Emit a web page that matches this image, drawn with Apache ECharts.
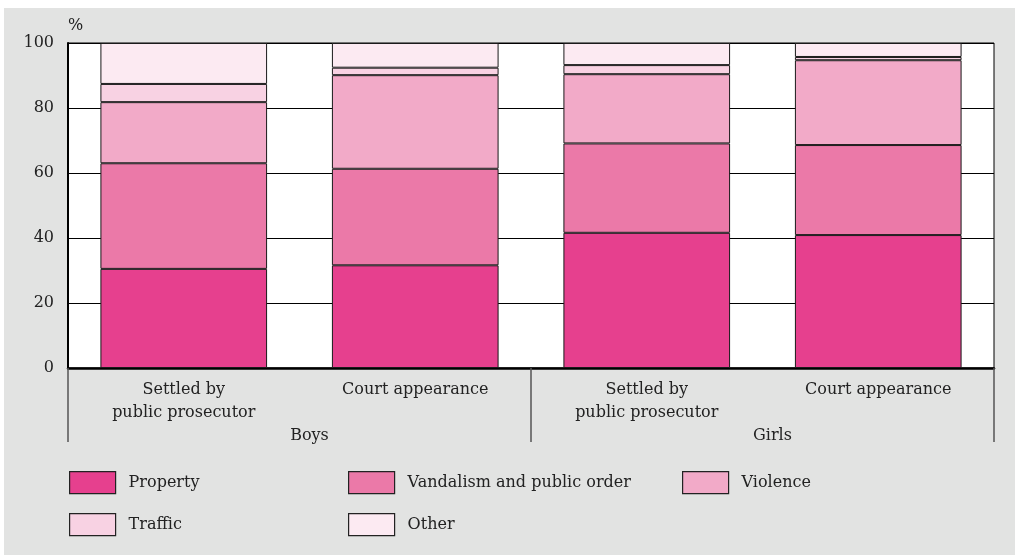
<!DOCTYPE html>
<html>
<head>
<meta charset="utf-8">
<script src="https://cdn.jsdelivr.net/npm/echarts@6/dist/echarts.min.js"></script>
<style>
  html, body { margin: 0; padding: 0; background: #ffffff; }
  #chart { position: absolute; left: 4px; top: 8px; width: 1011px; height: 547px; background: #e2e3e2; }
</style>
</head>
<body>
<div id="chart"></div>
<script>
const categories = ['Settled by\npublic prosecutor', 'Court appearance', 'Settled by\npublic prosecutor', 'Court appearance'];
const groups = ['Boys', 'Girls'];
const yTicks = [0, 20, 40, 60, 80, 100];

const seriesNames = ['Property', 'Vandalism and public order', 'Violence', 'Traffic', 'Other'];
const property  = [30.5, 31.6, 41.6, 40.9];
const vandalism = [32.5, 29.7, 27.5, 27.7];
const violence  = [18.8, 28.8, 21.3, 26.1];
const traffic   = [5.6, 2.3, 2.8, 1.0];
const other     = [12.6, 7.6, 6.8, 4.3];

const colors = ['#e6408e', '#eb79a8', '#f2aac8', '#f8d2e3', '#fceaf2'];
const FONT = 'DejaVu Serif';
const TXT = '#222222';

const values = [property, vandalism, violence, traffic, other];

const chart = echarts.init(document.getElementById('chart'), null, { renderer: 'canvas' });

const legendPos = [
  { left: 65, top: 463 },
  { left: 344, top: 463 },
  { left: 678, top: 463 },
  { left: 65, top: 505 },
  { left: 344, top: 505 }
];

chart.setOption({
  backgroundColor: 'transparent',
  animation: false,
  textStyle: { fontFamily: FONT },
  grid: {
    left: 64, top: 35, width: 926, height: 325,
    show: true, backgroundColor: '#ffffff', borderColor: '#000000', borderWidth: 1
  },
  legend: seriesNames.map((n, i) => ({
    data: [n],
    left: legendPos[i].left,
    top: legendPos[i].top,
    orient: 'horizontal',
    padding: 0,
    itemWidth: 46,
    itemHeight: 22,
    icon: 'rect',
    selectedMode: false,
    itemStyle: { borderColor: '#222222', borderWidth: 1.2 },
    textStyle: { fontFamily: FONT, fontSize: 16, color: TXT, padding: [0, 0, 0, 8] }
  })),
  xAxis: [
    {
      type: 'category',
      data: categories,
      position: 'bottom',
      axisLine: { show: true, lineStyle: { color: '#000000', width: 2.5 } },
      axisTick: { show: false },
      axisLabel: { interval: 0, margin: 10, fontFamily: FONT, fontSize: 16, lineHeight: 23, color: TXT },
      splitLine: { show: false }
    },
    {
      type: 'category',
      data: groups,
      position: 'bottom',
      axisLine: { show: false },
      axisTick: { show: true, length: 74, interval: 0, lineStyle: { color: '#555555', width: 1.5 } },
      axisLabel: { interval: 0, margin: 60, fontFamily: FONT, fontSize: 16, color: TXT, padding: [0, 0, 0, 20] },
      splitLine: { show: false }
    }
  ],
  yAxis: {
    type: 'value',
    min: yTicks[0],
    max: yTicks[yTicks.length - 1],
    interval: 20,
    axisLine: { show: true, lineStyle: { color: '#000000', width: 2 } },
    axisTick: { show: false },
    axisLabel: { margin: 14, fontFamily: FONT, fontSize: 16, color: TXT },
    splitLine: { show: true, lineStyle: { color: '#000000', width: 1 } }
  },
  graphic: [
    { type: 'text', left: 64, top: 10, style: { text: '%', fontFamily: FONT, fontSize: 16, fill: TXT } }
  ],
  series: seriesNames.map((n, i) => ({
    name: n,
    type: 'bar',
    stack: 'total',
    xAxisIndex: 0,
    barWidth: '72%',
    data: values[i],
    itemStyle: { color: colors[i], borderColor: '#1a1a1a', borderWidth: 1 },
    emphasis: { disabled: true }
  }))
});
</script>
</body>
</html>
